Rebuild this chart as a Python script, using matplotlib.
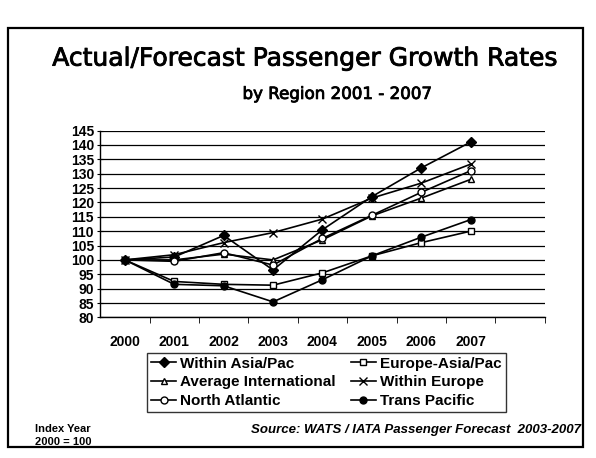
import numpy as np
import matplotlib
matplotlib.use("Agg")
from matplotlib import pyplot as plt
from matplotlib import patheffects
from matplotlib.patches import Rectangle

years = ["2000", "2001", "2002", "2003", "2004", "2005", "2006", "2007"]

within_asia_pac = [100, 101, 108.5, 96.5, 110.5, 122, 132, 141]
avg_international = [100, 100, 102, 100, 107, 115.3, 121.5, 128]
north_atlantic = [100, 99.5, 102.5, 98.2, 107.5, 115.5, 123.5, 131]
europe_asia_pac = [100, 92.5, 91.5, 91.2, 95.5, 101.4, 106, 110]
within_europe = [100, 101.8, 106, 109.5, 114.2, 121.5, 126.7, 133.3]
trans_pacific = [100, 91.5, 91, 85.4, 93.1, 101.4, 107.9, 114]

y_ticks = list(range(80, 150, 5))

# legend fills column by column: left column first, then right column
series = [
    ("Within Asia/Pac", within_asia_pac, "D", "black"),
    ("Average International", avg_international, "^", "white"),
    ("North Atlantic", north_atlantic, "o", "white"),
    ("Europe-Asia/Pac", europe_asia_pac, "s", "white"),
    ("Within Europe", within_europe, "x", "black"),
    ("Trans Pacific", trans_pacific, "o", "black"),
]

plt.rcParams["font.family"] = ["Liberation Sans", "DejaVu Sans"]

fig = plt.figure(figsize=(5.96, 4.58), dpi=100)

# outer border around the whole chart
fig.patches.append(Rectangle((0.013, 0.024), 0.965, 0.915, transform=fig.transFigure,
                             fill=False, edgecolor="black", linewidth=1.6))

# slightly heavier strokes for the headline text
heavy = [patheffects.withStroke(linewidth=0.6, foreground="black")]
fig.text(0.512, 0.872, "Actual/Forecast Passenger Growth Rates", ha="center", va="center",
         fontsize=18, family=["DejaVu Sans"], path_effects=heavy)
fig.text(0.565, 0.795, "by Region 2001 - 2007", ha="center", va="center",
         fontsize=12, family=["DejaVu Sans"], path_effects=heavy)

ax = fig.add_axes([0.168, 0.307, 0.746, 0.408])
x = np.arange(len(years))
handles = []
for label, values, marker, face in series:
    (h,) = ax.plot(x, values, color="black", linewidth=1.2, marker=marker,
                   markersize=5 if marker != "x" else 6, markerfacecolor=face,
                   markeredgecolor="black", markeredgewidth=1.0, label=label)
    handles.append(h)

ax.set_xlim(-0.5, 8.5)
ax.set_ylim(80, 145)
ax.set_yticks(y_ticks)
ax.set_yticklabels([str(v) for v in y_ticks], fontsize=10, fontweight="bold")
ax.yaxis.grid(True, color="black", linewidth=0.9)
ax.set_axisbelow(True)

ax.set_xticks(x)
ax.set_xticklabels(years, fontsize=10, fontweight="bold")
ax.set_xticks(np.arange(0.5, 9, 1), minor=True)
ax.tick_params(axis="x", which="major", length=0, pad=13)
ax.tick_params(axis="x", which="minor", length=4, direction="out", color="black")
ax.tick_params(axis="y", length=5, direction="inout", pad=2, color="black")

for side in ("top", "right"):
    ax.spines[side].set_visible(False)
for side in ("left", "bottom"):
    ax.spines[side].set_linewidth(1.0)
    ax.spines[side].set_color("black")

leg = fig.legend(handles=handles, ncol=2, loc="center", bbox_to_anchor=(0.548, 0.165),
                 frameon=True, fancybox=False, edgecolor="black",
                 handlelength=1.6, handletextpad=0.3, columnspacing=1.0,
                 labelspacing=0.3, borderpad=0.25, prop={"weight": "bold", "size": 11})
leg.get_frame().set_linewidth(1.0)

fig.text(0.058, 0.05, "Index Year\n2000 = 100", ha="left", va="center",
         fontsize=8, fontweight="bold", linespacing=1.4)
fig.text(0.975, 0.062, "Source: WATS / IATA Passenger Forecast  2003-2007", ha="right",
         va="center", fontsize=9.5, fontweight="bold", fontstyle="italic")

fig.savefig("out.png", dpi=100)
